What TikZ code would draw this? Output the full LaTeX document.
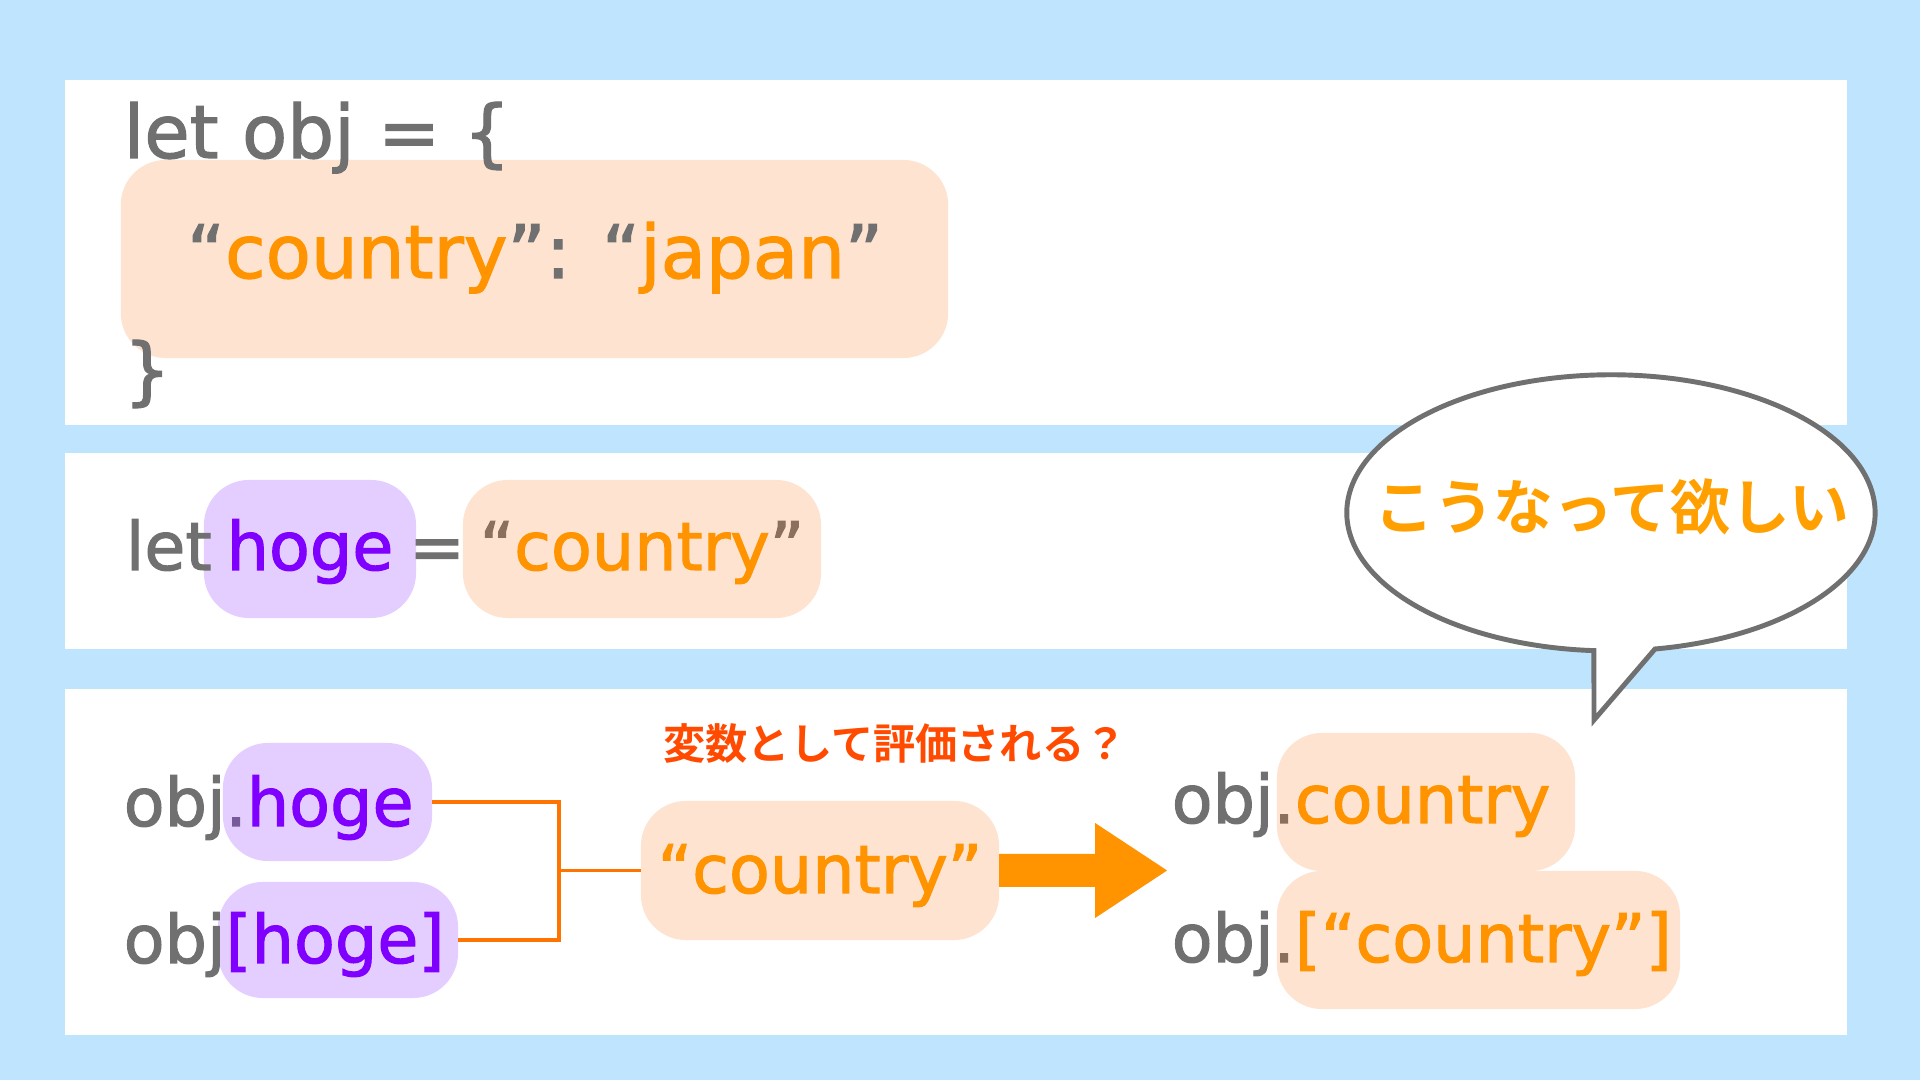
\documentclass[tikz,border=0pt]{standalone}
\usepackage{fontspec}
\setmainfont{DejaVu Sans}[RawFeature={embolden=1.6}]
\newfontfamily\jpfont{Noto Sans CJK JP}[BoldFont={Noto Sans CJK JP Bold}]
\usetikzlibrary{calc}
\definecolor{cbg}{HTML}{BEE5FD}
\definecolor{cgray}{HTML}{707070}
\definecolor{corange}{HTML}{FF9300}
\definecolor{cpeach}{HTML}{FDE3D0}
\definecolor{clilac}{HTML}{E4CEFF}
\definecolor{cpurple}{HTML}{7F00FF}
\definecolor{cbrown}{HTML}{8C6F5C}
\definecolor{cplum}{HTML}{785A9C}
\definecolor{cline}{HTML}{FF7300}
\definecolor{cred}{HTML}{FF4A00}
\definecolor{cyell}{HTML}{FFA000}
\tikzset{
  every picture/.style={line width=1pt},
  box/.style={fill=#1, rounded corners=0.45cm, inner sep=0pt, outer sep=0pt},
  box/.default=cpeach,
  panel/.style={fill=white},
  code/.style={inner sep=0pt, text=cgray, font=\fontsize{19}{23}\selectfont},
  bigcode/.style={code, font=\fontsize{21}{25}\selectfont},
  link/.style={draw=cline, line width=1pt},
}
\newcommand{\orng}[1]{\textcolor{corange}{#1}}
\newcommand{\purp}[1]{\textcolor{cpurple}{#1}}

\begin{document}
\begin{tikzpicture}[
    x=0.01cm, y=-0.01cm,
    strbox/.style={box=cpeach},
    varbox/.style={box=clilac},
    jp/.style={inner sep=0pt, font=\jpfont\bfseries\fontsize{#1}{#1}\selectfont},
    bigarrow/.style={fill=corange},
    bubble/.style={draw=cgray, fill=white, line width=1.4pt, line join=miter},
  ]
  \fill[cbg] (0,0) rectangle (1920,1080);
  \useasboundingbox (0,0) rectangle (1920,1080);
  \fill[panel] (65,80) rectangle (1847,425);
  \fill[panel] (65,453) rectangle (1847,649);
  \fill[panel] (65,689) rectangle (1847,1035);

  % object literal
  \node[strbox, minimum width=8.27cm, minimum height=1.98cm] (kvbox) at (534.5,259) {};
  \node[bigcode, anchor=base west] (letobj) at (122,158) {let obj = \{};
  \node[bigcode, anchor=base] (kv) at (535,278) {“\orng{country}”: “\orng{japan}”};
  \node[bigcode, anchor=base west] (close) at (122,396) {\}};

  % variable
  \node[varbox, minimum width=2.12cm, minimum height=1.38cm] (hogebox) at (310,549) {};
  \node[strbox, minimum width=3.58cm, minimum height=1.38cm] (valbox) at (642,549) {};
  \node[code, anchor=base west] (let) at (124,570) {let};
  \node[code, anchor=base] (hoge) at (310,570) {\purp{hoge}};
  \node[code, anchor=base] (eq) at (437,570) {=};
  \node[code, anchor=base] (val) at (642,570) {\textcolor{cbrown}{“}\orng{country}\textcolor{cbrown}{”}};

  % property access
  \node[varbox, minimum width=2.09cm, minimum height=1.18cm] (dotbox) at (327.5,802) {};
  \node[varbox, minimum width=2.40cm, minimum height=1.16cm] (brbox) at (338,940) {};
  \node[code, anchor=base west] (dotacc) at (122,826) {obj\textcolor{cplum}{.}\purp{hoge}};
  \node[code, anchor=base west] (bracc) at (122,963) {obj\purp{[hoge]}};
  \node[strbox, minimum width=3.58cm, minimum height=1.39cm] (midbox) at (820,870.5) {};
  \node[code, anchor=base] (mid) at (820,893) {\orng{“country”}};
  \node[jp=12, text=cred] (asvar) at (895,744) {変数として評価される？};
  \coordinate (jn) at (559,870.5);
  \draw[link] (dotbox.east) -| (jn) |- (brbox.east);
  \draw[link] (jn) -- (midbox.west);
  \fill[bigarrow] ($(midbox.east)+(0,-16.5)$) -- ++(96,0) -- ++(0,-31) -- ++(72,47.5)
    -- ++(-72,47.5) -- ++(0,-31) -- ++(-96,0) -- cycle;

  % wanted result
  \node[strbox, minimum width=2.98cm, minimum height=1.38cm] (rbox1) at (1426,802) {};
  \node[strbox, minimum width=4.03cm, minimum height=1.38cm] (rbox2) at (1478.5,940) {};
  \node[code, anchor=base west] (want1) at (1170,823) {obj\textcolor{cbrown}{.}\orng{country}};
  \node[code, anchor=base west] (want2) at (1170,962) {obj\textcolor{cbrown}{.}\orng{[“country”]}};

  % speech bubble
  \coordinate (bub) at (1611,513);
  \draw[bubble] ($(bub)+(44,136)$) arc[start angle=279.6, end angle=626.3, x radius=2.64cm, y radius=1.38cm]
    -- (1594,720) -- cycle;
  \node[jp=17, text=cyell] (wish) at (1612,507) {こうなって欲しい};
\end{tikzpicture}
\end{document}
